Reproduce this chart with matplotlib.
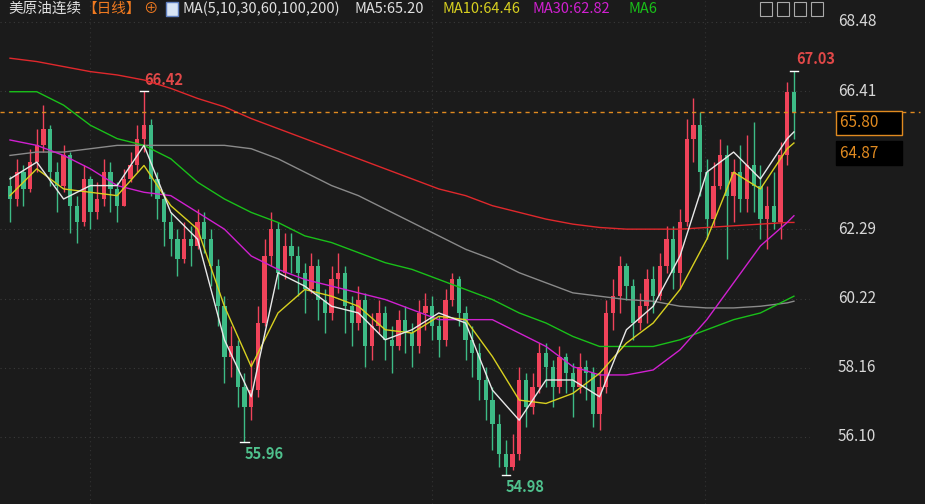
import numpy as np
import matplotlib
matplotlib.use("Agg")
import matplotlib.pyplot as plt

plt.rcParams['font.family'] = ['Noto Sans CJK SC', 'DejaVu Sans']

closes = [63.2, 64.0, 63.5, 64.3, 64.8, 65.3, 64.0, 63.6, 64.5, 63.0,
          62.5, 63.8, 62.8, 63.2, 64.0, 63.5, 63.0, 63.8, 64.2, 65.0,
          65.4, 63.8, 63.2, 62.5, 62.0, 61.4, 62.0, 61.8, 62.5, 62.0,
          61.2, 60.0, 58.5, 58.8, 57.6, 57.0, 57.5, 59.5, 61.5, 62.3,
          61.0, 61.8, 61.5, 61.0, 60.5, 61.2, 60.2, 59.8, 60.8, 61.0,
          60.0, 59.5, 60.2, 58.8, 59.4, 59.8, 59.0, 58.8, 59.6, 59.2,
          58.8, 59.8, 60.0, 59.4, 59.0, 60.2, 60.8, 59.8, 59.0, 58.6,
          57.8, 57.2, 56.5, 55.6, 55.2, 55.6, 57.8, 57.0, 57.6, 58.6,
          58.2, 57.6, 58.5, 58.0, 57.6, 58.2, 58.0, 56.8, 57.6, 59.8,
          60.3, 61.2, 60.6, 59.5, 60.0, 60.8, 60.3, 61.2, 62.0, 61.0,
          62.5, 65.0, 65.4, 64.0, 62.6, 63.6, 64.5, 63.3, 64.0, 63.2,
          64.2, 63.6, 62.6, 63.0, 62.5, 64.5, 66.4, 65.8]
opens = [63.6] + closes[:-1]
highs = [63.9, 64.4, 64.2, 64.7, 65.3, 66.0, 65.4, 64.3, 64.8, 64.6,
         63.3, 64.2, 63.9, 63.7, 64.4, 64.3, 63.7, 64.1, 64.6, 65.4,
         66.42, 65.6, 64.0, 63.4, 62.8, 62.3, 62.5, 62.4, 62.9, 62.8,
         62.3, 61.4, 60.3, 59.4, 59.0, 58.0, 58.4, 60.0, 62.0, 62.8,
         62.5, 62.2, 62.2, 61.8, 61.3, 61.6, 61.4, 60.5, 61.2, 61.6,
         61.2, 60.3, 60.6, 60.4, 59.8, 60.2, 60.0, 59.4, 59.9, 60.0,
         59.5, 60.2, 60.4, 60.3, 59.7, 60.5, 61.0, 60.9, 60.0, 59.4,
         58.9, 58.2, 57.6, 56.8, 56.0, 56.2, 58.2, 58.0, 58.0, 58.9,
         58.9, 58.4, 58.8, 58.6, 58.3, 58.6, 58.4, 58.2, 58.0, 60.2,
         60.8, 61.5, 61.3, 60.8, 60.4, 61.1, 61.2, 61.6, 62.4, 62.4,
         62.9, 65.6, 66.2, 65.8, 64.4, 64.3, 65.0, 64.8, 64.4, 64.8,
         65.1, 65.5, 64.2, 63.6, 64.0, 64.9, 66.7, 67.03]
lows = [62.5, 63.0, 63.0, 63.4, 64.0, 64.6, 63.6, 62.8, 63.4, 62.2,
        61.9, 62.4, 62.3, 62.6, 63.0, 62.8, 62.5, 63.0, 63.7, 64.0,
        64.6, 63.3, 62.6, 61.8, 61.5, 60.9, 61.3, 61.2, 61.7, 61.6,
        60.6, 59.4, 57.7, 57.9, 57.0, 55.96, 56.6, 57.3, 59.4, 61.2,
        60.5, 60.8, 61.0, 60.3, 59.8, 60.4, 59.6, 59.2, 59.6, 60.4,
        59.2, 58.8, 59.3, 58.2, 58.4, 59.2, 58.4, 58.0, 58.7, 58.6,
        58.2, 58.6, 59.3, 59.0, 58.5, 58.8, 60.0, 59.4, 58.4, 57.9,
        57.2, 56.6, 55.7, 55.2, 54.98, 55.1, 55.4, 56.4, 56.8, 57.4,
        57.6, 57.0, 57.4, 57.4, 56.7, 57.4, 57.2, 56.4, 56.3, 57.4,
        59.3, 59.8, 60.2, 59.0, 59.3, 59.5, 59.8, 60.2, 61.0, 60.5,
        60.5, 62.4, 64.3, 63.3, 62.0, 62.4, 63.5, 61.4, 62.5, 62.8,
        62.8, 62.8, 62.0, 61.7, 62.3, 62.0, 64.2, 65.0]

ma_idx = list(range(0, 117, 4)) + [117]
ma5 = [63.8, 64.3, 63.2, 63.6, 63.6, 64.8, 62.8, 62.0, 59.0, 57.3,
       61.0, 60.6, 60.0, 59.8, 59.0, 59.3, 59.8, 59.5, 57.5, 56.6,
       57.8, 57.8, 57.3, 59.3, 60.0, 61.5, 64.0, 64.6, 63.8, 65.0, 65.2]
ma10 = [63.3, 64.1, 63.5, 63.4, 63.3, 64.2, 63.0, 62.3, 60.0, 58.2,
        59.8, 60.5, 60.3, 60.0, 59.3, 59.2, 59.7, 59.6, 58.5, 57.2,
        57.1, 57.4, 58.0, 58.9, 59.5, 60.5, 62.0, 64.0, 63.5, 64.7, 64.87]
ma30 = [64.96, 64.8, 64.5, 64.1, 63.6, 63.4, 63.3, 62.8, 62.3, 61.5,
        61.1, 60.8, 60.6, 60.4, 60.2, 59.9, 59.6, 59.6, 59.6, 59.2,
        58.8, 58.2, 57.95, 57.95, 58.1, 58.7, 59.6, 60.7, 61.8, 62.5, 62.7]
ma60 = [66.4, 66.4, 66.0, 65.4, 65.0, 64.8, 64.4, 63.7, 63.2, 62.8,
        62.5, 62.1, 61.9, 61.6, 61.3, 61.1, 60.8, 60.5, 60.2, 59.8,
        59.5, 59.1, 58.8, 58.8, 58.8, 59.0, 59.3, 59.6, 59.8, 60.2, 60.3]
ma100 = [64.5, 64.6, 64.6, 64.7, 64.8, 64.8, 64.8, 64.8, 64.8, 64.7,
         64.4, 64.0, 63.6, 63.3, 62.9, 62.5, 62.1, 61.7, 61.4, 61.0,
         60.7, 60.4, 60.3, 60.2, 60.15, 60.0, 59.95, 59.95, 60.0, 60.1, 60.15]
ma200 = [67.4, 67.3, 67.15, 67.0, 66.9, 66.75, 66.5, 66.2, 65.95, 65.6,
         65.3, 65.0, 64.7, 64.4, 64.1, 63.8, 63.5, 63.3, 63.0, 62.8,
         62.6, 62.45, 62.35, 62.3, 62.3, 62.3, 62.35, 62.4, 62.45, 62.5, 62.5]

right_ticks = [68.48, 66.41, 62.29, 60.22, 58.16, 56.10]
last_price = 65.80
ma10_last = 64.87

bg = '#1b1b1b'
up_c = '#f0435a'
dn_c = '#3dbb86'

fig = plt.figure(figsize=(9.25, 5.04), dpi=100, facecolor=bg)
ax = fig.add_axes([0, 0, 810 / 925, 1])
ax.set_facecolor(bg)
ymax = 68.48 + 22 / 33.52
ymin = 68.48 - 482 / 33.52
ax.set_ylim(ymin, ymax)
ax.set_xlim(-1.49, 119.4)
ax.axis('off')

for t in right_ticks:
    ax.axhline(t, color='#3a3a3a', ls=(0, (1, 3)), lw=0.8, zorder=0)
for xv in [11.9, 63.0, 103.7]:
    ax.axvline(xv, color='#333333', ls=(0, (1, 3)), lw=0.8, zorder=0)

for i, (o, c, h, l) in enumerate(zip(opens, closes, highs, lows)):
    col = up_c if c >= o else dn_c
    ax.vlines(i, l, h, color=col, lw=1, zorder=2)
    bot = min(o, c)
    ax.bar(i, max(abs(c - o), 0.05), bottom=bot, width=0.65, color=col, zorder=3)

ax.plot(ma_idx, ma200, color='#e0282c', lw=1, zorder=4)
ax.plot(ma_idx, ma100, color='#8a8a8a', lw=1, zorder=4)
ax.plot(ma_idx, ma60, color='#19c019', lw=1, zorder=4)
ax.plot(ma_idx, ma30, color='#d020d0', lw=1, zorder=4)
ax.plot(ma_idx, ma10, color='#d8d020', lw=1, zorder=4)
ax.plot(ma_idx, ma5, color='#e8e8e8', lw=1, zorder=5)

ax.axhline(last_price, color='#e08a20', ls=(0, (3, 3)), lw=1, zorder=6)

# extreme labels
def mark(i, y, up, col):
    ax.plot([i - 0.6, i + 0.6], [y] * 2, color='white', lw=1)
    off = 0.1 if up else -0.12
    ax.text(i + (0.3 if i > 100 else 0), y + off, '%.2f' % y, color=col, fontsize=10.5,
            va='bottom' if up else 'top', fontweight='bold')

hi_i = int(np.argmax(highs[:40]))
mark(hi_i, highs[hi_i], True, '#e04848')
lo_i = int(np.argmin(lows[:60]))
mark(lo_i, lows[lo_i], False, '#4fc18d')
lo_i2 = int(np.argmin(lows))
mark(lo_i2, lows[lo_i2], False, '#4fc18d')
hi_i2 = int(np.argmax(highs))
mark(hi_i2, highs[hi_i2], True, '#e04848')

# right axis
def fy(p):
    return (p - ymin) / (ymax - ymin)

for t in right_ticks:
    fig.text(838 / 925, fy(t), '%.2f' % t, color='#d8d8d8', fontsize=11, va='center')
fig.text(840 / 925, fy(last_price) - 0.022, '%.2f' % last_price + '      ', color='#e08a20', fontsize=11, va='center',
         bbox=dict(boxstyle='square,pad=0.25', fc='black', ec='#e08a20', lw=1))
fig.text(840 / 925, fy(ma10_last) - 0.02, '%.2f' % ma10_last + '      ', color='#e08a20', fontsize=11, va='center',
         bbox=dict(boxstyle='square,pad=0.25', fc='black', ec='black'))
fig.lines.append(plt.Line2D([810 / 925, 920 / 925], [fy(last_price)] * 2, transform=fig.transFigure,
                            color='#e08a20', ls=(0, (3, 3)), lw=1))

# header
hy = 1 - 9 / 504
hdr = [(8, '美原油连续', '#e0e0e0'), (82, '【日线】', '#f07a20'), (143, '⊕', '#f07a20'),
       (182, 'MA(5,10,30,60,100,200)', '#e0e0e0'), (355, 'MA5:65.20', '#e0e0e0'),
       (443, 'MA10:64.46', '#d8d020'), (533, 'MA30:62.82', '#d020d0'), (628, 'MA6', '#19c019')]
for x, s, c in hdr:
    fig.text(x / 925, hy, s, color=c, fontsize=10.5, va='center')
fig.patches.append(plt.Rectangle((166 / 925, hy - 0.014), 12 / 925, 0.028, transform=fig.transFigure,
                                 fc='#d8e4f4', ec='#6080c0'))
for k in range(4):
    fig.patches.append(plt.Rectangle(((760 + k * 17) / 925, hy - 0.014), 12 / 925, 0.028,
                                     transform=fig.transFigure, fc='none', ec='#aaaaaa', lw=0.8))

fig.savefig('out.png', dpi=100, facecolor=bg)
